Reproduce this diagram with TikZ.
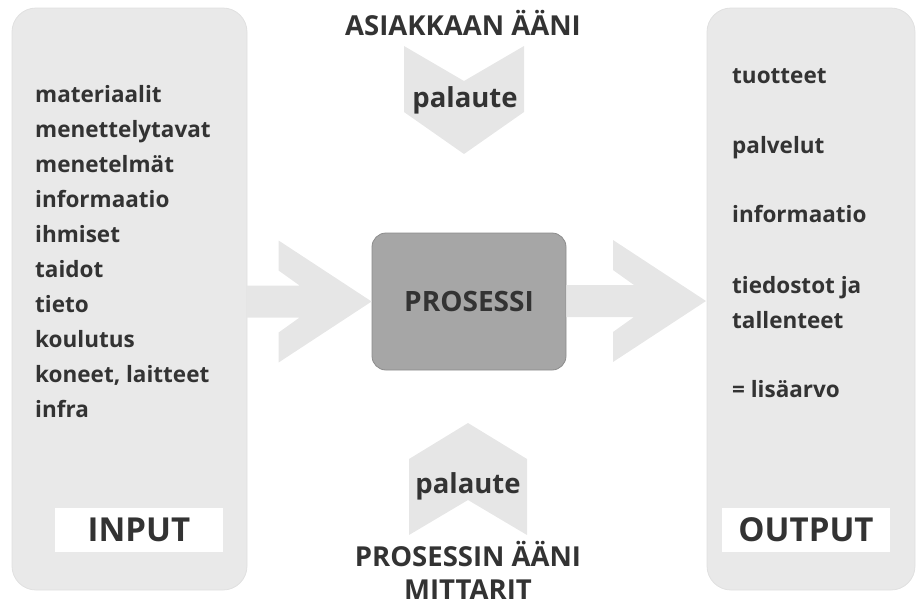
\documentclass[tikz,border=0pt]{standalone}
\usepackage{fontspec}
\setmainfont{Open Sans}
\usetikzlibrary{calc}
\definecolor{boxgray}{HTML}{E9E9E9}
\definecolor{flowgray}{HTML}{E6E6E6}
\definecolor{procgray}{HTML}{A6A6A6}
\definecolor{inkgray}{HTML}{333333}
\tikzset{
  panel/.style={draw=black!12, fill=boxgray, rounded corners=24pt, line width=0.8pt},
  procbox/.style={draw=black!45, fill=procgray, rounded corners=14pt, line width=0.8pt,
    minimum width=194pt, minimum height=137pt, font=\bfseries\fontsize{28}{32}\selectfont},
  tagbox/.style={fill=white, minimum width=168pt, minimum height=44pt, inner sep=0pt,
    font=\bfseries\fontsize{33}{37}\selectfont},
  item/.style={anchor=base west, inner sep=0pt, font=\bfseries\fontsize{22.5}{26}\selectfont},
  voice/.style={anchor=base, inner sep=0pt, font=\bfseries\fontsize{27.5}{31}\selectfont},
  flow/.style={fill=flowgray}
}
% block arrow: from #1 straight across to the tip at #2
\newcommand{\flowarrow}[2]{%
  \fill[flow] let \p1=(#1), \p2=(#2) in
    (\x1,\y2+16pt) -- (\x2-72pt,\y2+16pt) -- (\x2-93pt,\y2+31pt) -- (\x2-93pt,\y2+61pt)
    -- (\x2,\y2) -- (\x2-93pt,\y2-61pt) -- (\x2-93pt,\y2-31pt) -- (\x2-72pt,\y2-16pt)
    -- (\x1,\y2-16pt) -- cycle;}
\begin{document}
\begin{tikzpicture}[x=1pt, y=-1pt, color=inkgray]
    \useasboundingbox (0,0) rectangle (920,606);
    % side panels
    \draw[panel] (12,8) rectangle (247,590);
    \draw[panel] (707,8) rectangle (915,590);
    \coordinate (inedge) at (247,301);
    \coordinate (outedge) at (706,301);
    % process
    \node[procbox] (proc) at (469,301.5) {PROSESSI};
    % flows in and out
    \flowarrow{inedge}{proc.west}
    \flowarrow{proc.east}{outedge}
    % feedback chevrons
    \begin{scope}[shift={(464,46)}]
      \fill[flow] (-60,0) -- (0,35) -- (60,0) -- (60,66) -- (0,108) -- (-60,66) -- cycle;
    \end{scope}
    \begin{scope}[shift={(468,423)}]
      \fill[flow] (0,0) -- (59,36) -- (59,112) -- (0,77) -- (-59,112) -- (-59,36) -- cycle;
    \end{scope}
    \node[voice] (asiakas) at (463,35) {ASIAKKAAN ÄÄNI};
    \node[voice] (fbtop) at (465,107) {palaute};
    \node[voice] (fbbot) at (468,493) {palaute};
    \node[voice] (prosessi) at (468,566) {PROSESSIN ÄÄNI};
    \node[voice] (mittarit) at (468,599) {MITTARIT};
    % inputs
    \foreach \t [count=\i] in {materiaalit, menettelytavat, menetelmät, informaatio,
      ihmiset, taidot, tieto, koulutus, {koneet, laitteet}, infra} {
      \pgfmathsetmacro{\yy}{102+35*(\i-1)}
      \node[item] (in\i) at (35,\yy) {\t};
    }
    \node[tagbox] (input) at (139,530) {INPUT};
    % outputs
    \node[item] (out1) at (732,83) {tuotteet};
    \node[item] (out2) at (732,153) {palvelut};
    \node[item] (out3) at (732,222) {informaatio};
    \node[item] (out4) at (732,293) {tiedostot ja};
    \node[item] (out5) at (732,328) {tallenteet};
    \node[item] (out6) at (732,397) {= lisäarvo};
    \node[tagbox] (output) at (806,530) {OUTPUT};
\end{tikzpicture}
\end{document}
